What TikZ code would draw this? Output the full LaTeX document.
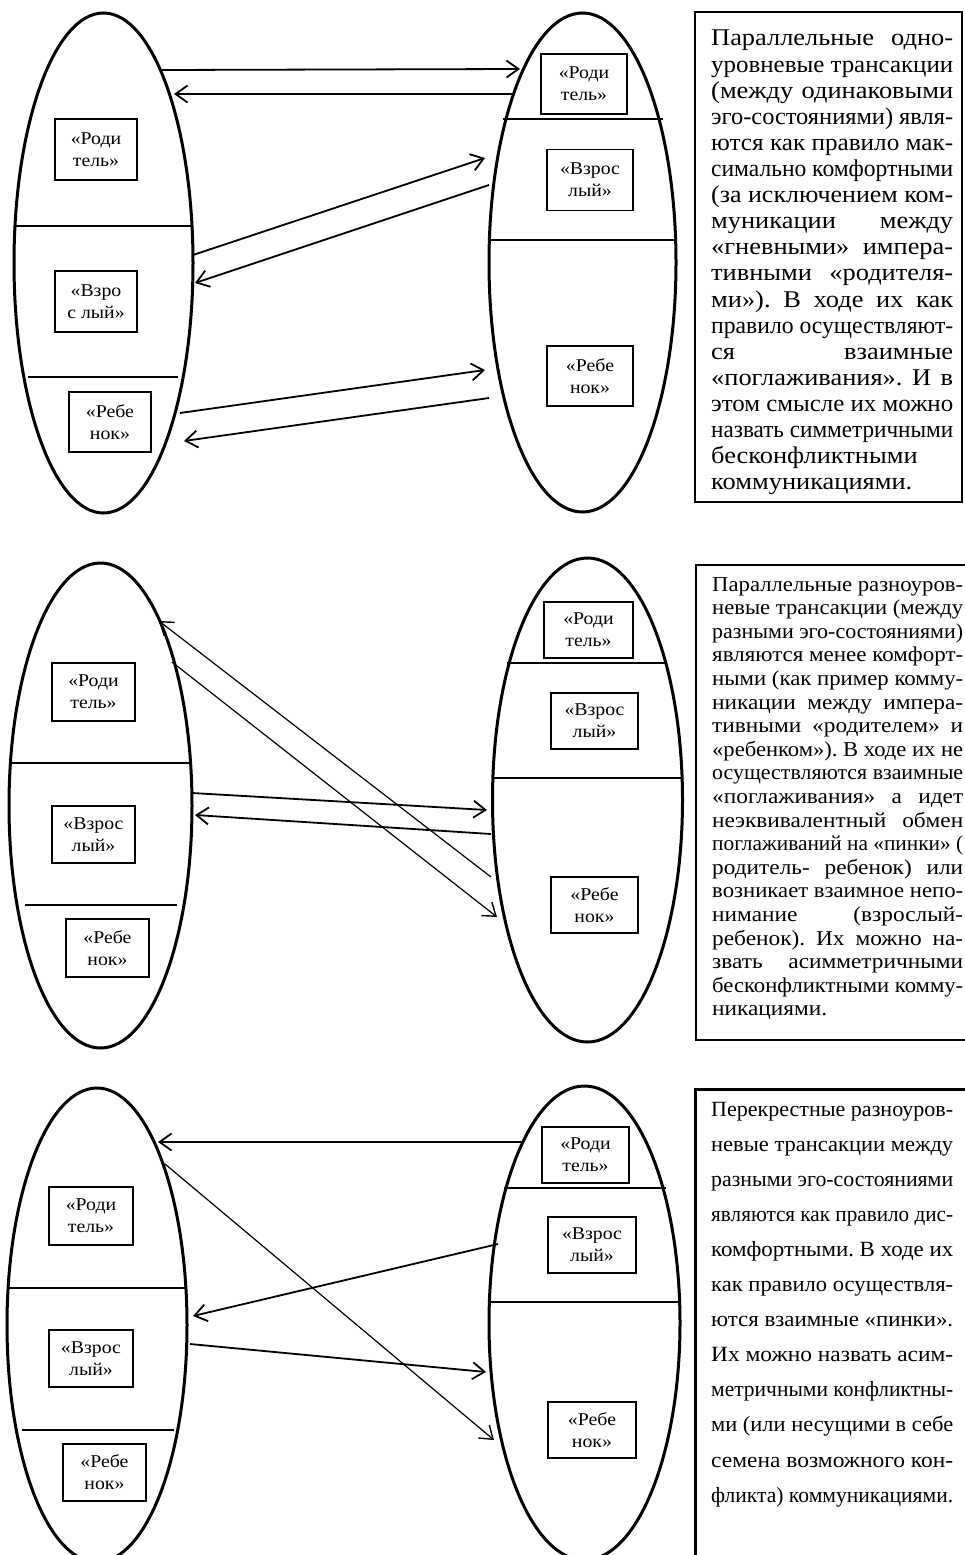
\documentclass[tikz,border=0pt]{standalone}
\usepackage{graphicx}
\usepackage{fontspec}
\setmainfont{Liberation Serif}[FakeStretch=1.1]
\usetikzlibrary{arrows.meta,shapes.geometric}
\newsavebox\lnbox
\newcommand\jbox[2]{\sbox\lnbox{\frenchspacing #2}%
  \ifdim\wd\lnbox>#1\relax\resizebox{#1}{\height}{\usebox\lnbox}%
  \else\hbox to #1{\frenchspacing\spaceskip=0.25em plus 1fil\relax #2}\fi}
\tikzset{
  oval/.style={ellipse, draw, line width=3pt, inner sep=0pt},
  egobox/.style={draw, line width=1.8pt, inner sep=0pt, align=center,
    minimum width=85pt, minimum height=58pt, font=\fontsize{18}{22}\selectfont},
  divider/.style={line width=1.8pt},
  arr/.style={line width=1.8pt, -{Straight Barb[length=12pt,width=17pt,line width=1.8pt]}},
  thinarr/.style={line width=1.2pt, -{Straight Barb[length=12pt,width=17pt,line width=1.4pt]}},
  note/.style={line width=2pt},
  paraA/.style={anchor=base west, inner sep=0pt, font=\fontsize{24}{26}\selectfont},
  paraB/.style={anchor=base west, inner sep=0pt, font=\fontsize{21.2}{22}\selectfont},
  paraC/.style={anchor=base west, inner sep=0pt, font=\fontsize{21.7}{22}\selectfont}
}
\begin{document}
\begin{tikzpicture}[x=1pt,y=-1pt]
\useasboundingbox (0,0) rectangle (965,1555);

% ================= Panel 1 =================
\node[oval, minimum width=179pt, minimum height=500pt] (L1) at (103.5,263) {};
\node[oval, minimum width=187pt, minimum height=499pt] (R1) at (582.5,262.5) {};
\coordinate (l1a) at (14,226);  \coordinate (l1b) at (192,226);
\coordinate (l1c) at (28,377);  \coordinate (l1d) at (178,377);
\coordinate (r1a) at (503,119); \coordinate (r1b) at (663,119);
\coordinate (r1c) at (490,240); \coordinate (r1d) at (676,240);
\draw[divider] (l1a) -- (l1b); \draw[divider] (l1c) -- (l1d);
\draw[divider] (r1a) -- (r1b); \draw[divider] (r1c) -- (r1d);
\node[egobox, minimum width=82pt, minimum height=61pt] (L1p) at (96,149.5) {«Роди\\тель»};
\node[egobox, minimum width=82pt, minimum height=61pt] (L1a) at (96,301.5) {«Взро\\с лый»};
\node[egobox, minimum width=82pt, minimum height=60pt] (L1c) at (110,422) {«Ребе\\нок»};
\node[egobox, minimum width=86pt, minimum height=60pt] (R1p) at (584,84) {«Роди\\тель»};
\node[egobox, minimum width=86pt, minimum height=61pt] (R1a) at (590,180) {«Взрос\\лый»};
\node[egobox, minimum width=86pt, minimum height=60pt] (R1c) at (590,376) {«Ребе\\нок»};
\coordinate (a1s) at (161,70);  \coordinate (a1e) at (520,69);
\coordinate (a2s) at (513,94);  \coordinate (a2e) at (174,94);
\coordinate (a3s) at (193,255); \coordinate (a3e) at (485,158);
\coordinate (a4s) at (489,185); \coordinate (a4e) at (195,283);
\coordinate (a5s) at (180,413); \coordinate (a5e) at (485,370);
\coordinate (a6s) at (489,398); \coordinate (a6e) at (184,441);
\draw[arr] (a1s) -- (a1e);
\draw[arr] (a2s) -- (a2e);
\draw[arr] (a3s) -- (a3e);
\draw[arr] (a4s) -- (a4e);
\draw[arr] (a5s) -- (a5e);
\draw[arr] (a6s) -- (a6e);
\coordinate (n1a) at (695,12); \coordinate (n1b) at (962,502);
\draw[note] (n1a) rectangle (n1b);
\foreach \s [count=\i from 0] in {
{Параллельные одно-},
{уровневые трансакции},
{(между одинаковыми},
{эго-состояниями) явля-},
{ются как правило мак-},
{симально комфортными},
{(за исключением ком-},
{муникации между},
{«гневными» импера-},
{тивными «родителя-},
{ми»). В ходе их как},
{правило осуществляют-},
{ся взаимные},
{«поглаживания». И в},
{этом смысле их можно},
{назвать симметричными},
{бесконфликтными\hfill},
{коммуникациями.\hfill}}
  \node[paraA] (pa\i) at (711,{46+26.1*\i}) {\jbox{242pt}{\s}};

% ================= Panel 2 =================
\node[oval, minimum width=183pt, minimum height=485pt] (L2) at (100.5,805.5) {};
\node[oval, minimum width=190pt, minimum height=484pt] (R2) at (587.5,800) {};
\coordinate (l2a) at (10,763);  \coordinate (l2b) at (191,763);
\coordinate (l2c) at (25,905);  \coordinate (l2d) at (177,905);
\coordinate (r2a) at (507,663); \coordinate (r2b) at (667,663);
\coordinate (r2c) at (493,778); \coordinate (r2d) at (682,778);
\draw[divider] (l2a) -- (l2b); \draw[divider] (l2c) -- (l2d);
\draw[divider] (r2a) -- (r2b); \draw[divider] (r2c) -- (r2d);
\node[egobox, minimum width=83pt, minimum height=58pt] (L2p) at (93.5,692) {«Роди\\тель»};
\node[egobox, minimum width=83pt, minimum height=57pt] (L2a) at (93.5,834.5) {«Взрос\\лый»};
\node[egobox, minimum width=83pt, minimum height=58pt] (L2c) at (107.5,948) {«Ребе\\нок»};
\node[egobox, minimum width=89pt, minimum height=56pt] (R2p) at (588.5,630) {«Роди\\тель»};
\node[egobox, minimum width=87pt, minimum height=56pt] (R2a) at (594.5,721) {«Взрос\\лый»};
\node[egobox, minimum width=87pt, minimum height=56pt] (R2c) at (594.5,905) {«Ребе\\нок»};
\coordinate (b1s) at (491,877); \coordinate (b1e) at (159,621);
\coordinate (b2s) at (172,662); \coordinate (b2e) at (497,917);
\coordinate (b3s) at (192,793); \coordinate (b3e) at (487,810);
\coordinate (b4s) at (491,834); \coordinate (b4e) at (195,815);
\draw[thinarr] (b1s) -- (b1e);
\draw[thinarr] (b2s) -- (b2e);
\draw[arr] (b3s) -- (b3e);
\draw[arr] (b4s) -- (b4e);
\coordinate (n2a) at (970,565); \coordinate (n2b) at (696,565);
\coordinate (n2c) at (696,1040); \coordinate (n2d) at (970,1040);
\draw[note] (n2a) -- (n2b) -- (n2c) -- (n2d);
\foreach \s [count=\i from 0] in {
{Параллельные разноуров-},
{невые трансакции (между},
{разными эго-состояниями)},
{являются менее комфорт-},
{ными (как пример комму-},
{никации между импера-},
{тивными «родителем» и},
{«ребенком»). В ходе их не},
{осуществляются взаимные},
{«поглаживания» а идет},
{неэквивалентный обмен},
{поглаживаний на «пинки» (},
{родитель- ребенок) или},
{возникает взаимное непо-},
{нимание (взрослый-},
{ребенок). Их можно на-},
{звать асимметричными},
{бесконфликтными комму-},
{никациями.\hfill}}
  \node[paraB] (pb\i) at (712,{591+23.6*\i}) {\jbox{251pt}{\s}};

% ================= Panel 3 =================
\node[oval, minimum width=180pt, minimum height=474pt] (L3) at (97,1325) {};
\node[oval, minimum width=191pt, minimum height=474pt] (R3) at (584.5,1323) {};
\coordinate (l3a) at (7,1288);  \coordinate (l3b) at (186,1288);
\coordinate (l3c) at (22,1430); \coordinate (l3d) at (174,1430);
\coordinate (r3a) at (504,1188); \coordinate (r3b) at (666,1188);
\coordinate (r3c) at (490,1302); \coordinate (r3d) at (680,1302);
\draw[divider] (l3a) -- (l3b); \draw[divider] (l3c) -- (l3d);
\draw[divider] (r3a) -- (r3b); \draw[divider] (r3c) -- (r3d);
\node[egobox, minimum width=84pt, minimum height=58pt] (L3p) at (91,1216) {«Роди\\тель»};
\node[egobox, minimum width=84pt, minimum height=57pt] (L3a) at (91,1358.5) {«Взрос\\лый»};
\node[egobox, minimum width=83pt, minimum height=57pt] (L3c) at (104.5,1472.5) {«Ребе\\нок»};
\node[egobox, minimum width=87pt, minimum height=56pt] (R3p) at (585.5,1155) {«Роди\\тель»};
\node[egobox, minimum width=88pt, minimum height=56pt] (R3a) at (592,1245) {«Взрос\\лый»};
\node[egobox, minimum width=88pt, minimum height=56pt] (R3c) at (592,1430) {«Ребе\\нок»};
\coordinate (c1s) at (522,1142); \coordinate (c1e) at (158,1142);
\coordinate (c2s) at (165,1164); \coordinate (c2e) at (494,1440);
\coordinate (c3s) at (498,1244); \coordinate (c3e) at (193,1316);
\coordinate (c4s) at (190,1344); \coordinate (c4e) at (486,1372);
\draw[arr, line width=1.5pt] (c1s) -- (c1e);
\draw[thinarr] (c2s) -- (c2e);
\draw[arr] (c3s) -- (c3e);
\draw[arr] (c4s) -- (c4e);
\coordinate (n3a) at (970,1089); \coordinate (n3b) at (695,1089);
\coordinate (n3c) at (695,1560);
\draw[line width=3pt] (n3a) -- (n3b) -- (n3c);
\foreach \s [count=\i from 0] in {
{Перекрестные разноуров-},
{невые трансакции между},
{разными эго-состояниями},
{являются как правило дис-},
{комфортными. В ходе их},
{как правило осуществля-},
{ются взаимные «пинки».},
{Их можно назвать асим-},
{метричными конфликтны-},
{ми (или несущими в себе},
{семена возможного кон-},
{фликта) коммуникациями.\hfill}}
  \node[paraC] (pc\i) at (711,{1116+35.1*\i}) {\jbox{242pt}{\s}};
\end{tikzpicture}
\end{document}
